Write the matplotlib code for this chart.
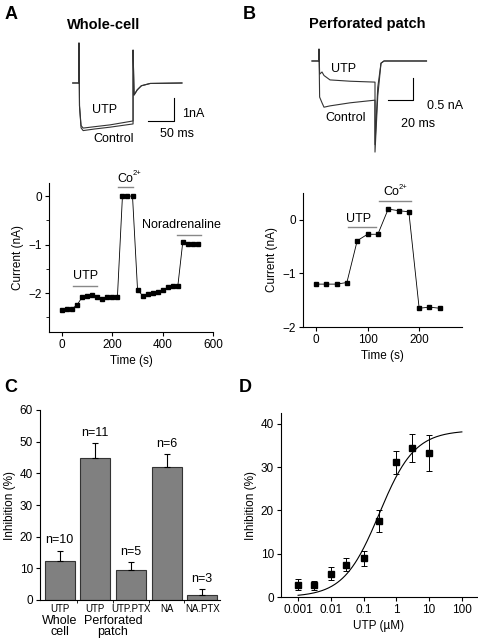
import numpy as np
import matplotlib
matplotlib.use('Agg')
import matplotlib.pyplot as plt

plt.rcParams['font.family'] = ['Liberation Sans', 'DejaVu Sans']
plt.rcParams['font.size'] = 8
plt.rcParams['axes.linewidth'] = 0.8
plt.rcParams['xtick.major.width'] = 0.8
plt.rcParams['ytick.major.width'] = 0.8
plt.rcParams['xtick.major.size'] = 3
plt.rcParams['ytick.major.size'] = 3

# ==========================================
# DATA
# ==========================================
# A (top): whole-cell current traces, time in ms, current in nA
trace_a_t = [-12, 0, 0, 1, 4, 8, 30, 60, 104, 104, 106, 112, 120, 137, 198]
trace_a_ctrl = [0, 0, 1.74, -1.0, -1.95, -2.07, -2.0, -1.92, -1.78, 1.43, -0.52, -0.3, -0.12, -0.02, 0]
trace_a_utp = [0, 0, 1.74, -1.0, -1.85, -1.96, -1.9, -1.82, -1.65, 1.43, -0.52, -0.3, -0.12, -0.02, 0]

# B (top): perforated patch traces
trace_b_t = [-5.6, 0, 0, 0.5, 2.4, 4, 8.8, 25, 44.8, 44.8, 47, 49.6, 52, 86]
trace_b_ctrl = [0, 0, 0.27, -0.82, -0.95, -1.05, -1.02, -0.95, -0.89, -2.07, -0.8, -0.05, 0, 0]
trace_b_utp = [0, 0, 0.27, -0.3, -0.25, -0.33, -0.43, -0.46, -0.48, -1.9, -0.6, -0.05, 0, 0]

# A (bottom): current vs time, whole-cell
time_a = [0, 20, 40, 60, 80, 100, 120, 140, 160, 180, 200, 220, 240, 260, 280,
          300, 320, 340, 360, 380, 400, 420, 440, 460, 480, 500, 520, 540]
current_a = [-2.35, -2.32, -2.32, -2.24, -2.08, -2.05, -2.03, -2.07, -2.11, -2.08,
             -2.08, -2.08, 0.0, 0.0, 0.0, -1.93, -2.05, -2.02, -2.0, -1.98, -1.94,
             -1.88, -1.86, -1.86, -0.94, -0.99, -0.99, -0.99]

# B (bottom): current vs time, perforated patch
time_b = [0, 20, 40, 60, 80, 100, 120, 140, 160, 180, 200, 220, 240]
current_b = [-1.2, -1.2, -1.2, -1.17, -0.39, -0.27, -0.27, 0.2, 0.17, 0.15, -1.65, -1.63, -1.65]

# C: bar chart
bar_labels = ['UTP', 'UTP', 'UTP.PTX', 'NA', 'NA.PTX']
bar_values = [12.4, 45.0, 9.4, 41.9, 1.7]
bar_errors = [3.2, 4.5, 2.5, 4.1, 1.8]
bar_n = ['n=10', 'n=11', 'n=5', 'n=6', 'n=3']

# D: concentration-response
utp_conc = [0.001, 0.003, 0.01, 0.03, 0.1, 0.3, 1, 3, 10]
inhibition = [2.8, 2.7, 5.4, 7.4, 8.9, 17.6, 31.1, 34.4, 33.2]
inhibition_err = [1.25, 1.1, 1.5, 1.5, 1.8, 2.6, 2.7, 3.3, 4.2]
fit_max, fit_ec50, fit_hill = 38.5, 0.3, 0.8

W, H = 478, 640
fig = plt.figure(figsize=(W / 100, H / 100), dpi=100)

TICK = 8.5
LAB = 8.5
ANN = 9


def px_axes(x0, y0, x1, y1):
    return fig.add_axes([x0 / W, 1 - y1 / H, (x1 - x0) / W, (y1 - y0) / H])


def style(ax):
    for s in ['top', 'right']:
        ax.spines[s].set_visible(False)
    ax.tick_params(direction='out', labelsize=TICK, pad=2)


def co2(ax, x, y):
    # "Co" with a small 2+ superscript
    ax.text(x, y, 'Co', fontsize=ANN, ha='center', va='center', clip_on=False)
    ax.annotate('2+', (x, y), xytext=(5.5, 1), textcoords='offset points',
                fontsize=5.5, va='bottom', annotation_clip=False)


# panel letters and titles
for txt, x, y in [('A', 5, 19), ('B', 243, 19), ('C', 4, 392), ('D', 239, 392)]:
    fig.text(x / W, 1 - y / H, txt, fontsize=13, fontweight='bold', va='baseline')
fig.text(104 / W, 1 - 29 / H, 'Whole-cell', fontsize=10.5, fontweight='bold', ha='center')
fig.text(367 / W, 1 - 28 / H, 'Perforated patch', fontsize=10.5, fontweight='bold', ha='center')

# ==========================================
# TRACES
# ==========================================
ta = px_axes(60, 35, 190, 145)
ta.axis('off')
ta.set_xlim(-36.5, 213.5)
ta.set_ylim(-2.696, 2.087)
ta.plot(trace_a_t, trace_a_ctrl, color='#333333', lw=0.8)
ta.plot(trace_a_t, trace_a_utp, color='#333333', lw=0.8)
ta.plot([133, 183, 183], [-1.65, -1.65, -0.65], color='black', lw=0.8)
ta.text(198, -1.35, '1nA', fontsize=ANN, va='center', clip_on=False)
ta.text(188, -2.2, '50 ms', fontsize=ANN, ha='center', va='center')
ta.text(50, -1.17, 'UTP', fontsize=ANN, ha='center', va='center')
ta.text(67, -2.43, 'Control', fontsize=ANN, ha='center', va='center')

tb = px_axes(300, 40, 440, 160)
tb.axis('off')
tb.set_xlim(-15.2, 96.8)
tb.set_ylim(-2.25, 0.477)
tb.plot(trace_b_t, trace_b_ctrl, color='#333333', lw=0.8)
tb.plot(trace_b_t, trace_b_utp, color='#333333', lw=0.8)
tb.plot([55.2, 75.2, 75.2], [-0.89, -0.89, -0.39], color='black', lw=0.8)
tb.text(86.4, -1.02, '0.5 nA', fontsize=ANN, va='center', clip_on=False)
tb.text(79, -1.43, '20 ms', fontsize=ANN, ha='center', va='center')
tb.text(19.6, -0.18, 'UTP', fontsize=ANN, ha='center', va='center')
tb.text(21.6, -1.3, 'Control', fontsize=ANN, ha='center', va='center')

# ==========================================
# A: CURRENT VS TIME
# ==========================================
ax = px_axes(49, 183, 213, 332)
style(ax)
ax.plot(time_a, current_a, color='black', lw=0.6, marker='s', ms=3.5)
ax.set_xlim(-52, 600)
ax.set_ylim(-2.8, 0.27)
ax.set_xticks([0, 200, 400, 600])
ax.set_yticks([0, -1, -2])
ax.set_yticks([-0.5, -1.5, -2.5], minor=True)
ax.tick_params(which='minor', direction='out', length=2, width=0.6)
ax.set_xlabel('Time (s)', fontsize=LAB, labelpad=3)
ax.set_ylabel('Current (nA)', fontsize=LAB, labelpad=3)
ax.plot([45, 138], [-1.86, -1.86], color='#888888', lw=1)
ax.plot([222, 282], [0.19, 0.19], color='#888888', lw=1)
ax.plot([455, 552], [-0.81, -0.81], color='#888888', lw=1)
ax.text(92, -1.64, 'UTP', fontsize=ANN, ha='center', va='center')
co2(ax, 250, 0.36)
ax.text(475, -0.6, 'Noradrenaline', fontsize=ANN, ha='center', va='center', clip_on=False)

# ==========================================
# B: CURRENT VS TIME
# ==========================================
bx = px_axes(303, 193, 462, 327)
style(bx)
bx.plot(time_b, current_b, color='black', lw=0.6, marker='s', ms=3.5)
bx.set_xlim(-25, 283)
bx.set_ylim(-2, 0.5)
bx.set_xticks([0, 100, 200])
bx.set_yticks([0, -1, -2])
bx.set_xlabel('Time (s)', fontsize=LAB, labelpad=3)
bx.set_ylabel('Current (nA)', fontsize=LAB, labelpad=3)
bx.plot([62, 116], [-0.14, -0.14], color='#888888', lw=1)
bx.plot([122, 185], [0.355, 0.355], color='#888888', lw=1)
bx.text(82, 0.02, 'UTP', fontsize=ANN, ha='center', va='center')
co2(bx, 146, 0.52)

# ==========================================
# C: BAR CHART
# ==========================================
cx = px_axes(40, 410, 220, 600)
style(cx)
pos = np.arange(len(bar_values))
cx.bar(pos, bar_values, width=0.84, color='#808080', edgecolor='#333333', lw=0.8)
cx.errorbar(pos, bar_values, yerr=[np.zeros(len(bar_errors)), bar_errors],
            fmt='none', ecolor='black', elinewidth=0.8, capsize=2.5, capthick=0.8)
for p, v, e, n in zip(pos, bar_values, bar_errors, bar_n):
    cx.text(p, v + e + 1.3, n, fontsize=ANN, ha='center', va='bottom')
cx.set_xlim(-0.55, 4.5)
cx.set_ylim(0, 60)
cx.set_yticks(range(0, 61, 10))
cx.set_xticks(pos)
cx.set_xticklabels(bar_labels, fontsize=7)
cx.set_xticks(pos[:-1] + 0.5, minor=True)
cx.tick_params(axis='x', which='major', length=0, pad=3)
cx.tick_params(axis='x', which='minor', direction='out', length=2, width=0.6)
cx.set_ylabel('Inhibition (%)', fontsize=LAB, labelpad=3)
for txt, x, y in [('Whole', 60, 621), ('cell', 60, 632),
                  ('Perforated', 113, 621), ('patch', 113, 632)]:
    fig.text(x / W, 1 - y / H, txt, fontsize=9, ha='center', va='center')

# ==========================================
# D: CONCENTRATION-RESPONSE
# ==========================================
dx = px_axes(281, 413, 477, 597)
style(dx)
xf = np.logspace(-3, 2, 200)
yf = fit_max * (xf / fit_ec50) ** fit_hill / (1 + (xf / fit_ec50) ** fit_hill)
dx.plot(xf, yf, color='black', lw=0.8)
dx.errorbar(utp_conc, inhibition, yerr=inhibition_err, fmt='s', color='black', ms=4.5,
            elinewidth=0.7, capsize=2, capthick=0.7)
dx.set_xscale('log')
dx.set_xlim(3e-4, 290)
dx.set_ylim(0, 42.5)
dx.set_xticks([0.001, 0.01, 0.1, 1, 10, 100])
dx.set_xticklabels(['0.001', '0.01', '0.1', '1', '10', '100'])
dx.set_yticks([0, 10, 20, 30, 40])
dx.tick_params(which='minor', direction='out', length=1.5, width=0.5)
dx.set_xlabel('UTP (µM)', fontsize=LAB, labelpad=3)
dx.set_ylabel('Inhibition (%)', fontsize=LAB, labelpad=3)

fig.savefig('out.png', dpi=100)
